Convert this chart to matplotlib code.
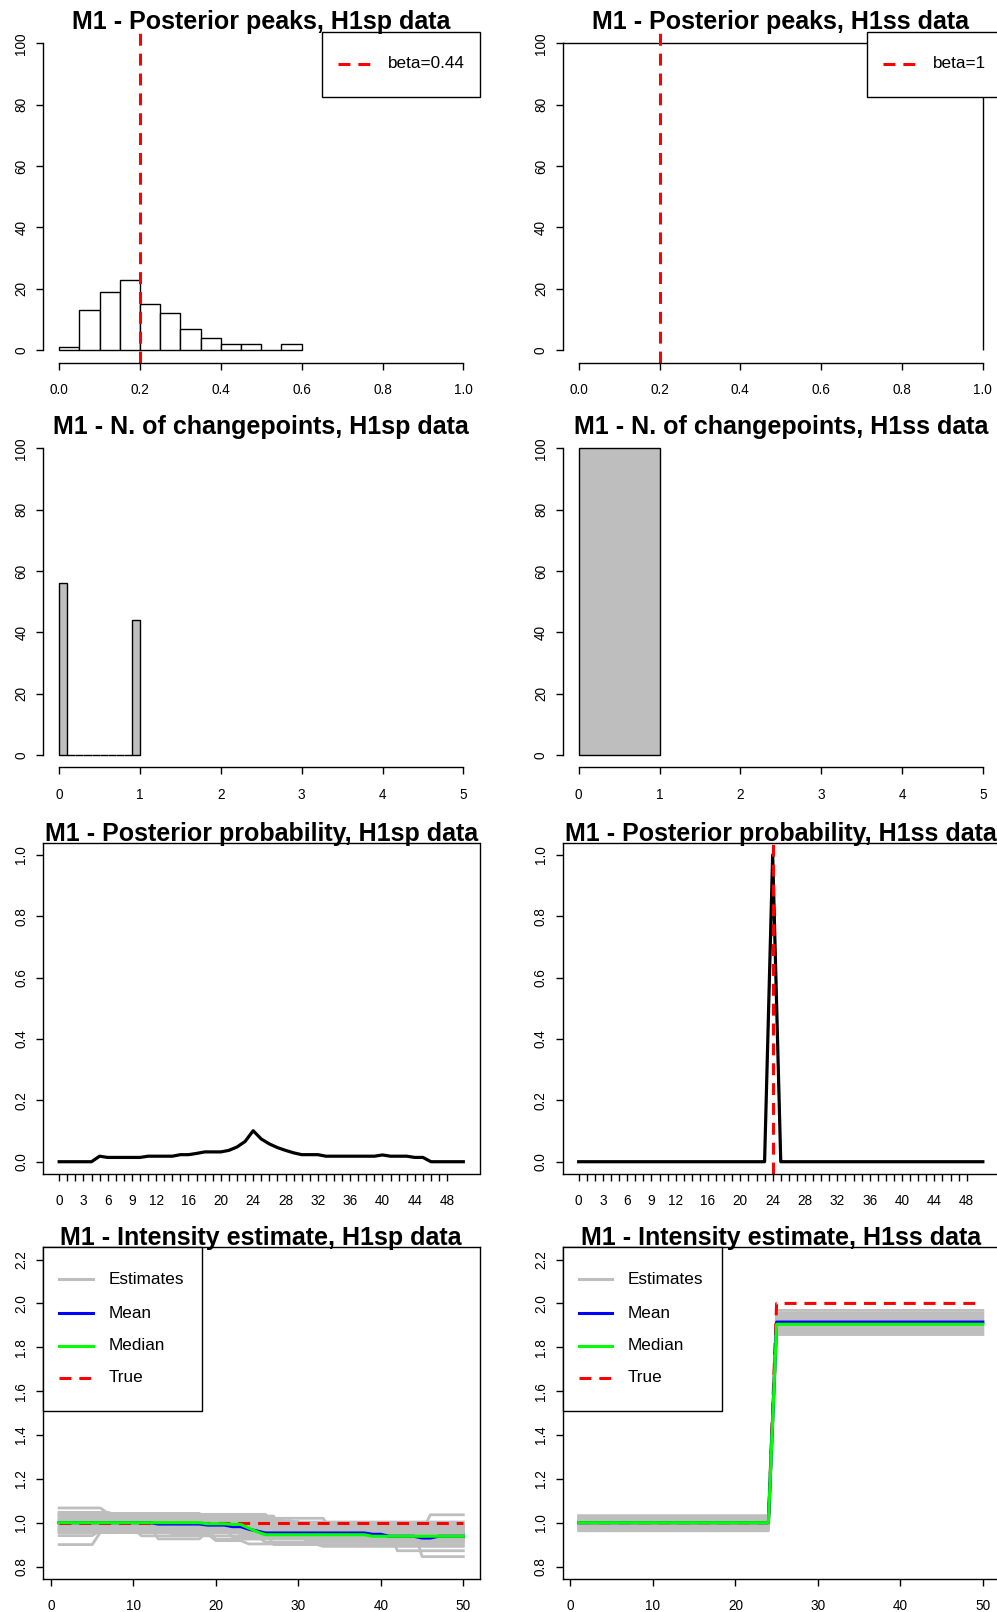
"""Riproduce la griglia 4x2 stile R base: picchi a posteriori, n. changepoint,
probabilita' a posteriori e stima dell'intensita' per dati H1sp / H1ss."""
import numpy as np
import matplotlib
matplotlib.use("Agg")
import matplotlib.pyplot as plt
from matplotlib.patches import Rectangle
from matplotlib.lines import Line2D

plt.rcParams["font.family"] = ["Liberation Sans", "DejaVu Sans"]

# ---------------- dati ----------------
# riga 1: istogramma dei picchi a posteriori
peaks_sp_edges = [0.0, 0.05, 0.10, 0.15, 0.20, 0.25, 0.30, 0.35, 0.40, 0.45, 0.50, 0.55, 0.60]
peaks_sp_counts = [1, 13, 19, 23, 15, 12, 7, 4, 2, 2, 0, 2]
peaks_ss_edges = [-1.0, 1.0]
peaks_ss_counts = [100]
true_cp_frac = 0.2
beta_sp_label = "beta=0.44"
beta_ss_label = "beta=1"

# riga 2: numero di changepoint
ncp_sp_edges = [0.0, 0.1, 0.2, 0.3, 0.4, 0.5, 0.6, 0.7, 0.8, 0.9, 1.0]
ncp_sp_counts = [56, 0, 0, 0, 0, 0, 0, 0, 0, 44]
ncp_ss_edges = [0.0, 1.0]
ncp_ss_counts = [100]

# riga 3: probabilita' a posteriori del changepoint (t = 0..50)
prob_t = list(range(0, 51))
prob_sp = [0, 0, 0, 0, 0, 0.018, 0.014, 0.014, 0.014, 0.014, 0.014,
           0.018, 0.018, 0.018, 0.018, 0.023, 0.023, 0.027, 0.032, 0.032, 0.032,
           0.037, 0.048, 0.066, 0.101, 0.074, 0.058, 0.046, 0.037, 0.029,
           0.023, 0.023, 0.023, 0.018, 0.018, 0.018, 0.018, 0.018, 0.018,
           0.018, 0.022, 0.018, 0.018, 0.018, 0.014, 0.014, 0, 0, 0, 0, 0]
prob_ss = [0.0] * 24 + [1.0] + [0.0] * 26
true_cp = 24

# riga 4: stime dell'intensita' (t = 1..50), come livelli + durate
int_t = list(range(1, 51))
sp_mean_levels = [1.0, 0.994, 0.989, 0.982, 0.970, 0.962, 0.953, 0.947, 0.938, 0.930, 0.938]
sp_mean_runs = [12, 6, 3, 2, 1, 1, 13, 2, 4, 2, 4]
sp_median_levels = [1.0, 0.995, 0.992, 0.975, 0.958, 0.945, 0.938]
sp_median_runs = [18, 3, 2, 1, 1, 13, 12]
sp_true_levels = [1.0]
sp_true_runs = [50]
sp_est_levels = [
    [1.067, 1.040, 0.990], [1.047, 1.027, 1.009, 0.997], [1.035, 0.990], [1.025, 0.985],
    [1.015, 0.975], [1.005, 0.965], [1.0, 0.950], [0.995, 0.955], [0.990, 0.945],
    [0.980, 0.935], [0.975, 0.925], [0.964, 0.956, 0.948, 0.918, 0.903, 0.892],
    [0.900, 0.956], [0.941, 0.964, 0.930], [0.985, 0.926, 0.960, 0.935],
    [1.010, 0.970, 0.872], [0.970, 0.845], [0.960, 1.036], [1.020, 0.960],
    [1.030, 0.970], [1.042, 0.980], [0.970, 0.940, 0.910], [1.0, 0.995], [0.955, 0.900],
    [1.012, 0.978], [0.958, 0.915], [1.038, 1.003],
]
sp_est_runs = [
    [6, 12, 32], [7, 17, 5, 21], [22, 28], [25, 25],
    [28, 22], [30, 20], [37, 13], [24, 26], [22, 28],
    [21, 29], [19, 31], [9, 5, 5, 4, 9, 18],
    [5, 45], [5, 20, 25], [12, 6, 10, 22],
    [20, 21, 9], [44, 6], [45, 5], [33, 17],
    [27, 23], [18, 32], [10, 15, 25], [20, 30], [26, 24],
    [23, 27], [30, 20], [26, 24],
]
ss_runs = [24, 26]
ss_mean_levels = [1.0, 1.915]
ss_median_levels = [1.0, 1.905]
ss_true_levels = [1.0, 2.0]
ss_est_before = [1.032, 1.025, 1.018, 1.012, 1.006, 1.0, 0.994, 0.988, 0.982, 0.976, 0.970, 0.963]
ss_est_after = [1.968, 1.955, 1.945, 1.935, 1.925, 1.915, 1.905, 1.895, 1.885, 1.875, 1.866, 1.858]

legend_names = ["Estimates", "Mean", "Median", "True"]

# tick e etichette
hist_yticks = [0, 20, 40, 60, 80, 100]
peaks_xticks = [0.0, 0.2, 0.4, 0.6, 0.8, 1.0]
peaks_xlabels = ["0.0", "0.2", "0.4", "0.6", "0.8", "1.0"]
ncp_xticks = [0, 1, 2, 3, 4, 5]
prob_xticks = list(range(0, 49))
prob_xshown = [0, 3, 6, 9, 12, 16, 20, 24, 28, 32, 36, 40, 44, 48]
prob_yticks = [0.0, 0.2, 0.4, 0.6, 0.8, 1.0]
prob_ylabels = ["0.0", "0.2", "0.4", "0.6", "0.8", "1.0"]
int_xticks = [0, 10, 20, 30, 40, 50]
int_yticks = [0.8, 1.0, 1.2, 1.4, 1.6, 1.8, 2.0, 2.2]
int_ylabels = ["0.8", "1.0", "1.2", "1.4", "1.6", "1.8", "2.0", "2.2"]

# ---------------- layout ----------------
W, H = 997, 1612
AX_W, AX_H = 436.5, 331.5
COLS = [43, 562.5]
ROWS = [31, 436, 842.5, 1247.3]
GRAY = "#bebebe"
DASH = (0, (3.9, 2.6))

fig = plt.figure(figsize=(W / 100, H / 100), dpi=100)


def panel(r, c):
    return fig.add_axes([COLS[c] / W, 1 - (ROWS[r] + AX_H) / H, AX_W / W, AX_H / H])


def style(ax, xlim, ylim, xticks, yticks, xlabels=None, ylabels=None, box=True):
    ax.set_xlim(xlim); ax.set_ylim(ylim)
    ax.set_xticks(xticks); ax.set_yticks(yticks)
    if xlabels is not None:
        ax.set_xticklabels(xlabels)
    if ylabels is not None:
        ax.set_yticklabels(ylabels)
    ax.tick_params(direction="out", length=5, width=1.0, labelsize=9.8)
    ax.tick_params(axis="x", pad=9.5)
    ax.tick_params(axis="y", pad=5.5)
    for lab in ax.get_yticklabels():
        lab.set_rotation(90); lab.set_va("center")
    for sp in ax.spines.values():
        sp.set_linewidth(1.0)
    if not box:
        ax.spines["top"].set_visible(False)
        ax.spines["right"].set_visible(False)
        ax.spines["left"].set_bounds(yticks[0], yticks[-1])
        ax.spines["bottom"].set_bounds(xticks[0], xticks[-1])


def title(ax, s):
    ax.text(0.5, 1 + 2 / AX_H, s, transform=ax.transAxes, ha="center", va="baseline",
            fontsize=18, fontweight="bold", zorder=10, clip_on=False)


def legend(ax, box, items, line_x, text_x, rows_y):
    fx = lambda p: p / AX_W
    fy = lambda p: 1 - p / AX_H
    x0, y0, x1, y1 = box
    ax.add_patch(Rectangle((fx(x0), fy(y1)), fx(x1) - fx(x0), fy(y0) - fy(y1), transform=ax.transAxes,
                           fc="white", ec="black", lw=1.0, zorder=6, clip_on=False))
    for (lab, col, ls), yy in zip(items, rows_y):
        ax.add_line(Line2D([fx(line_x[0]), fx(line_x[1])], [fy(yy), fy(yy)], transform=ax.transAxes,
                           color=col, lw=2.2, linestyle=ls, zorder=7, clip_on=False))
        ax.text(fx(text_x), fy(yy), lab, transform=ax.transAxes, fontsize=12.3,
                va="center", ha="left", zorder=7, clip_on=False)


def expand(levels, runs):
    return np.repeat(levels, runs)


# ---- riga 1 ----
ax = panel(0, 0)
ax.bar(peaks_sp_edges[:-1], peaks_sp_counts, width=np.diff(peaks_sp_edges), align="edge",
       fc="white", ec="black", lw=1.0)
ax.axvline(true_cp_frac, color="red", lw=2.2, linestyle=DASH)
style(ax, (-0.04, 1.04), (-4, 104), peaks_xticks, hist_yticks, peaks_xlabels, box=False)
title(ax, "M1 - Posterior peaks, H1sp data")
legend(ax, (278.7, 1.0, 437, 65.7), [(beta_sp_label, "red", DASH)], (295, 328), 345, [33])

ax = panel(0, 1)
ax.stairs(peaks_ss_counts, peaks_ss_edges, baseline=0, fill=False, color="black", lw=1.0)
ax.axvline(true_cp_frac, color="red", lw=2.2, linestyle=DASH)
style(ax, (-0.04, 1.04), (-4, 104), peaks_xticks, hist_yticks, peaks_xlabels, box=False)
title(ax, "M1 - Posterior peaks, H1ss data")
legend(ax, (304, 1.0, 440, 65.7), [(beta_ss_label, "red", DASH)], (320, 352.5), 370, [33])

# ---- riga 2 ----
ax = panel(1, 0)
ax.bar(ncp_sp_edges[:-1], ncp_sp_counts, width=np.diff(ncp_sp_edges), align="edge",
       fc=GRAY, ec="black", lw=1.0)
style(ax, (-0.2, 5.2), (-4, 104), ncp_xticks, hist_yticks, box=False)
title(ax, "M1 - N. of changepoints, H1sp data")

ax = panel(1, 1)
ax.bar(ncp_ss_edges[:-1], ncp_ss_counts, width=np.diff(ncp_ss_edges), align="edge",
       fc=GRAY, ec="black", lw=1.0)
style(ax, (-0.2, 5.2), (-4, 104), ncp_xticks, hist_yticks, box=False)
title(ax, "M1 - N. of changepoints, H1ss data")

# ---- riga 3 ----
prob_xlabels = [str(t) if t in prob_xshown else "" for t in prob_xticks]
ax = panel(2, 0)
ax.plot(prob_t, prob_sp, color="black", lw=2.3)
style(ax, (-2, 52), (-0.04, 1.04), prob_xticks, prob_yticks, prob_xlabels, prob_ylabels)
title(ax, "M1 - Posterior probability, H1sp data")

ax = panel(2, 1)
ax.plot(prob_t, prob_ss, color="black", lw=2.3)
ax.axvline(true_cp, color="red", lw=2.2, linestyle=DASH)
style(ax, (-2, 52), (-0.04, 1.04), prob_xticks, prob_yticks, prob_xlabels, prob_ylabels)
title(ax, "M1 - Posterior probability, H1ss data")

# ---- riga 4 ----
leg_items = [(legend_names[0], GRAY, "-"), (legend_names[1], "blue", "-"),
             (legend_names[2], "#00ff00", "-"), (legend_names[3], "red", DASH)]

ax = panel(3, 0)
for lv, rn in zip(sp_est_levels, sp_est_runs):
    ax.plot(int_t, expand(lv, rn), color=GRAY, lw=2.0)
ax.plot(int_t, expand(sp_true_levels, sp_true_runs), color="red", lw=2.2, linestyle=DASH)
ax.plot(int_t, expand(sp_mean_levels, sp_mean_runs), color="blue", lw=2.2)
ax.plot(int_t, expand(sp_median_levels, sp_median_runs), color="#00ff00", lw=2.2)
style(ax, (-0.96, 51.96), (0.744, 2.256), int_xticks, int_yticks, None, int_ylabels)
title(ax, "M1 - Intensity estimate, H1sp data")
legend(ax, (0, 0, 159.3, 163.4), leg_items, (16.3, 49.7), 65.3, [32, 66, 98.4, 130.4])

ax = panel(3, 1)
for b, a in zip(ss_est_before, ss_est_after):
    ax.plot(int_t, expand([b, a], ss_runs), color=GRAY, lw=2.0)
ax.plot(int_t, expand(ss_true_levels, ss_runs), color="red", lw=2.2, linestyle=DASH)
ax.plot(int_t, expand(ss_mean_levels, ss_runs), color="blue", lw=2.2)
ax.plot(int_t, expand(ss_median_levels, ss_runs), color="#00ff00", lw=2.2)
style(ax, (-0.96, 51.96), (0.744, 2.256), int_xticks, int_yticks, None, int_ylabels)
title(ax, "M1 - Intensity estimate, H1ss data")
legend(ax, (0, 0, 159.2, 163.4), leg_items, (16.3, 49.7), 65.3, [32, 66, 98.4, 130.4])

fig.savefig("out.png", dpi=100)
